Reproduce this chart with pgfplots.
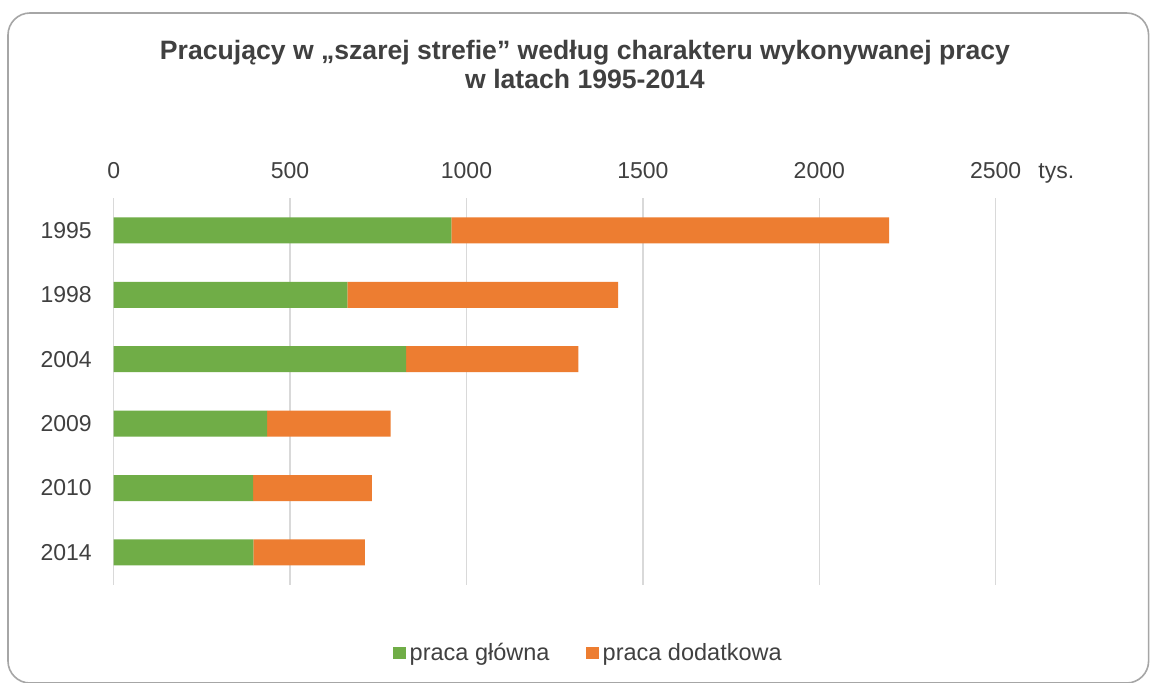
\documentclass[border=0pt]{standalone}
\usepackage{fontspec}
\setmainfont{Liberation Sans}
\usepackage{pgfplots}
\pgfplotsset{compat=1.18}
\definecolor{cgreen}{HTML}{70AD47}
\definecolor{corange}{HTML}{ED7D31}
\definecolor{txt}{HTML}{404040}
\definecolor{gridc}{HTML}{D9D9D9}
\definecolor{framec}{HTML}{A6A6A6}
\begin{document}
\begin{tikzpicture}
\useasboundingbox (0,0) rectangle (575pt,341pt);
\fill[white] (0,0) rectangle (575pt,341pt);
\draw[framec, line width=0.8pt, rounded corners=11pt] (4pt,-0.5pt) rectangle (574.3pt,334.5pt);
\node[anchor=base, text=txt, font=\fontsize{13.3}{15}\selectfont\bfseries] at (292.5pt,311.5pt) {Pracujący w „szarej strefie” według charakteru wykonywanej pracy};
\node[anchor=base, text=txt, font=\fontsize{13.3}{15}\selectfont\bfseries] at (292.5pt,297pt) {w latach 1995-2014};
\node[anchor=base west, text=txt, font=\fontsize{11.5}{13}\selectfont, inner sep=0pt] at (519pt,252pt) {tys.};
\begin{axis}[
  at={(56.85pt,48.7pt)}, anchor=south west,
  scale only axis, width=441pt, height=193.2pt,
  xbar stacked, bar width=13pt,
  xmin=0, xmax=2500, ymin=-0.5, ymax=5.5, y dir=reverse,
  ytick={0,1,2,3,4,5},
  yticklabels={1995,1998,2004,2009,2010,2014},
  xtick={0,500,1000,1500,2000,2500},
  xticklabels={0,500,1000,1500,2000,2500},
  xticklabel pos=upper,
  xticklabel style={anchor=base, inner sep=0pt, yshift=10pt, text=txt, font=\fontsize{11.5}{13}\selectfont},
  yticklabel style={anchor=east, inner sep=0pt, xshift=-10.8pt, text=txt, font=\fontsize{11.5}{13}\selectfont},
  xmajorgrids, major grid style={gridc, line width=0.65pt},
  axis line style={draw=none}, major tick length=0pt,
  legend style={at={(0.539,-0.177)}, anchor=center, draw=none, fill=none, legend columns=2,
    font=\fontsize{11.75}{14}\selectfont, text=txt, inner sep=0pt,
    /tikz/every even column/.append style={column sep=16pt}},
]
\addplot[fill=cgreen, draw=none, legend image code/.code={\fill[cgreen] (0pt,-3pt) rectangle (6.6pt,3pt);}] coordinates {(957,0) (662,1) (829,2) (435,3) (395,4) (396,5)};
\addplot[fill=corange, draw=none, legend image code/.code={\fill[corange] (0pt,-3pt) rectangle (6.6pt,3pt);}] coordinates {(1241,0) (768,1) (488,2) (350,3) (337,4) (316,5)};
\legend{praca główna, praca dodatkowa}
\end{axis}
\end{tikzpicture}
\end{document}
